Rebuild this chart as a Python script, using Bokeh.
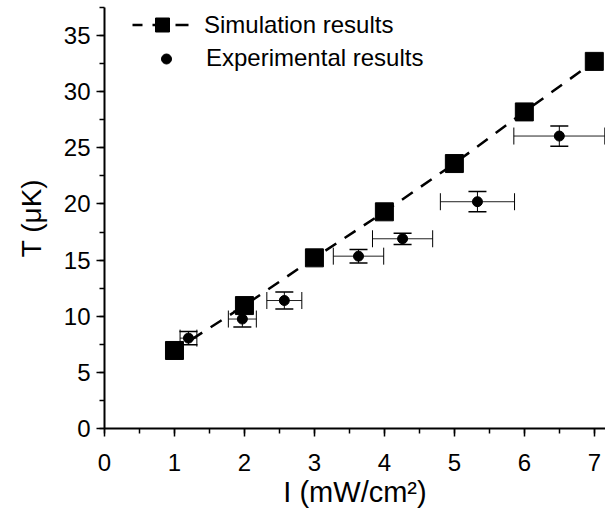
from bokeh.plotting import figure
from bokeh.models import (Range1d, SingleIntervalTicker, Whisker, TeeHead,
                          ColumnDataSource, Legend, LegendItem)
from bokeh.embed import file_html
from bokeh.resources import INLINE

# Simulation results
sim_I = [1, 2, 3, 4, 5, 6, 7]
sim_T = [6.95, 10.95, 15.2, 19.3, 23.6, 28.2, 32.7]

# Experimental results
exp_I = [1.20, 1.97, 2.57, 3.63, 4.26, 5.33, 6.50]
exp_T = [8.05, 9.75, 11.4, 15.35, 16.9, 20.2, 26.05]
exp_I_err = [0.12, 0.20, 0.25, 0.36, 0.43, 0.53, 0.65]
exp_T_err = [0.6, 0.7, 0.75, 0.6, 0.5, 0.9, 0.9]

x_label = "I (mW/cm\u00b2)"
y_label = "T (\u03bcK)"
sim_name = "Simulation results"
exp_name = "Experimental results"

FONT = "Liberation Sans"

p = figure(width=605, height=515, output_backend="svg", toolbar_location=None,
           x_range=Range1d(0, 7.16), y_range=Range1d(0, 37.5),
           min_border_left=104, min_border_right=0, min_border_top=7,
           min_border_bottom=87)
p.outline_line_color = None
p.xgrid.visible = False
p.ygrid.visible = False
p.background_fill_color = "white"
p.border_fill_color = "white"

for ax, ticker in ((p.xaxis[0], SingleIntervalTicker(interval=1, num_minor_ticks=2)),
                   (p.yaxis[0], SingleIntervalTicker(interval=5, num_minor_ticks=2))):
    ax.ticker = ticker
    ax.axis_line_width = 2
    ax.axis_line_color = "black"
    ax.major_tick_line_color = "black"
    ax.minor_tick_line_color = "black"
    ax.major_tick_line_width = 1.5
    ax.minor_tick_line_width = 1.5
    ax.major_tick_out = 8
    ax.major_tick_in = 0
    ax.minor_tick_out = 5
    ax.minor_tick_in = 0
    ax.major_label_text_font = FONT
    ax.major_label_text_font_size = "24px"
    ax.major_label_text_color = "black"
    ax.axis_label_text_font = FONT
    ax.axis_label_text_font_style = "normal"
    ax.axis_label_text_color = "black"

p.xaxis.axis_label = x_label
p.yaxis.axis_label = y_label
p.xaxis.axis_label_text_font_size = "29px"
p.yaxis.axis_label_text_font_size = "28px"
p.xaxis.major_label_standoff = 17
p.yaxis.major_label_standoff = 6
p.xaxis.axis_label_standoff = 2
p.yaxis.axis_label_standoff = 14

sim_src = ColumnDataSource(dict(x=sim_I, y=sim_T))
exp_src = ColumnDataSource(dict(
    x=exp_I, y=exp_T,
    xl=[a - e for a, e in zip(exp_I, exp_I_err)],
    xu=[a + e for a, e in zip(exp_I, exp_I_err)],
    yl=[a - e for a, e in zip(exp_T, exp_T_err)],
    yu=[a + e for a, e in zip(exp_T, exp_T_err)],
))

sim_line = p.line("x", "y", source=sim_src, line_color="black", line_width=2.5,
                  line_dash="13 10", line_dash_offset=3)
sim_pts = p.scatter("x", "y", source=sim_src, marker="square", size=18,
                    fill_color="black", line_color="black")

wy = Whisker(source=exp_src, base="x", upper="yu", lower="yl", dimension="height",
             line_color="black", line_width=1,
             upper_head=TeeHead(size=18, line_color="black", line_width=1.5),
             lower_head=TeeHead(size=18, line_color="black", line_width=1.5))
wx = Whisker(source=exp_src, base="y", upper="xu", lower="xl", dimension="width",
             line_color="#222222", line_width=1,
             upper_head=TeeHead(size=17, line_color="black", line_width=1),
             lower_head=TeeHead(size=17, line_color="black", line_width=1))
p.add_layout(wy)
p.add_layout(wx)

exp_pts = p.scatter("x", "y", source=exp_src, marker="circle", size=10,
                    fill_color="black", line_color="black")

leg1 = Legend(items=[LegendItem(label=sim_name, renderers=[sim_line, sim_pts])],
              location=(28, 386), glyph_width=60, glyph_height=35, label_height=35,
              label_standoff=12, padding=0, margin=0, spacing=0,
              border_line_color=None, background_fill_alpha=0,
              label_text_font=FONT, label_text_font_size="24px",
              label_text_color="black")
leg2 = Legend(items=[LegendItem(label=exp_name, renderers=[exp_pts])],
              location=(32, 356), glyph_width=60, glyph_height=25, label_height=25,
              label_standoff=10, padding=0, margin=0, spacing=0,
              border_line_color=None, background_fill_alpha=0,
              label_text_font=FONT, label_text_font_size="24px",
              label_text_color="black")
p.add_layout(leg1)
p.add_layout(leg2)

open("out.html", "w").write(file_html(p, INLINE))
